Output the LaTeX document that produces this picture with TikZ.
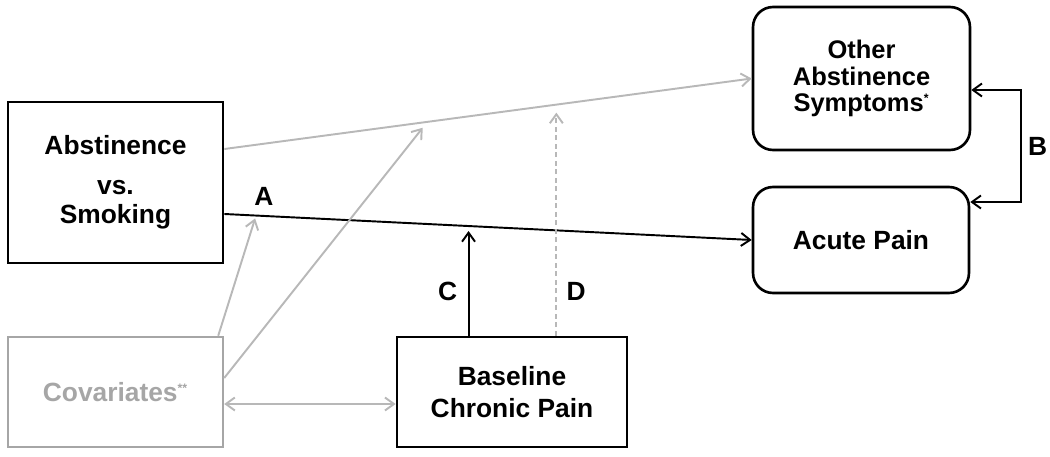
\documentclass[tikz,border=0pt]{standalone}
\usepackage{fontspec}
\setmainfont{Liberation Sans}
\usepackage{xcolor}
\usetikzlibrary{arrows.meta}

\definecolor{linegray}{HTML}{B8B8B8}
\definecolor{covgray}{HTML}{A6A6A6}

\begin{document}
\begin{tikzpicture}[x=0.02cm,y=-0.02cm,
					>={Straight Barb[length=1.8mm,width=2.6mm]},
					%auto,
					label node/.style={font=\bfseries\fontsize{15}{14.5}\selectfont,align=center},
					box node/.style={label node,draw,line width=1.6pt,inner sep=0pt},
					round node/.style={box node,line width=1.5pt,rounded corners=0.4cm},
					gray node/.style={box node,draw=covgray,text=covgray,line width=1.4pt},
					black line/.style={line width=1.1pt},
					gray line/.style={draw=linegray,line width=1.1pt},
					dash line/.style={gray line,dash pattern=on 1mm off 0.7mm}]

  \useasboundingbox (0,0) rectangle (1050,456);

  \node[box node,minimum width=4.3cm,minimum height=3.22cm] (AS) at (115.5,182.5) {Abstinence\\[8pt]vs.\\[2pt]Smoking};
  \node[round node,minimum width=4.34cm,minimum height=2.86cm,font=\bfseries\fontsize{14.5}{15.2}\selectfont] (OS) at (861.5,78.5)
    {Other\\Abstinence\\Symptoms\textsuperscript{\fontsize{7}{7}\selectfont*}};
  \node[round node,minimum width=4.32cm,minimum height=2.12cm] (AP) at (861,240) {Acute Pain};
  \node[gray node,minimum width=4.3cm,minimum height=2.2cm] (CV) at (115.5,392) {Covariates\textsuperscript{\fontsize{7}{7}\selectfont**}};
  \node[box node,minimum width=4.6cm,minimum height=2.2cm] (BP) at (512,392) {Baseline\\[3.5pt]Chronic Pain};

  % main paths
  \draw[gray line,->] ([yshift=0.67cm]AS.east) -- coordinate[pos=0.385] (e1) coordinate[pos=0.6295] (e2) (OS.west);
  \draw[black line,->] ([yshift=-0.63cm]AS.east) -- coordinate[pos=0.06] (a1) coordinate[pos=0.463] (a2)
    node[label node,pos=0.075,above=2pt] {A} (AP.west);
  \draw[black line,<->] ([yshift=-0.23cm]OS.east) -- ++(50,0) |- node[label node,pos=0.25,right] {B} ([yshift=0.76cm]AP.east);

  % moderators
  \draw[black line,->,shorten >=1mm] (a2 |- BP.north) -- node[label node,pos=0.4,left=2.6pt] {C} (a2);
  \draw[dash line,->,shorten >=1.6mm] (e2 |- BP.north) -- node[label node,pos=0.19,right=2pt] {D} (e2);

  % covariates
  \draw[gray line,->,shorten >=1.5mm] ([yshift=0.28cm]CV.east) -- (e1);
  \draw[gray line,->,shorten >=0.6mm] ([xshift=-0.12cm]CV.north east) -- (a1);
  \draw[gray line,<->] ([yshift=-0.24cm]CV.east) -- ([yshift=-0.24cm]BP.west);
\end{tikzpicture}
\end{document}
